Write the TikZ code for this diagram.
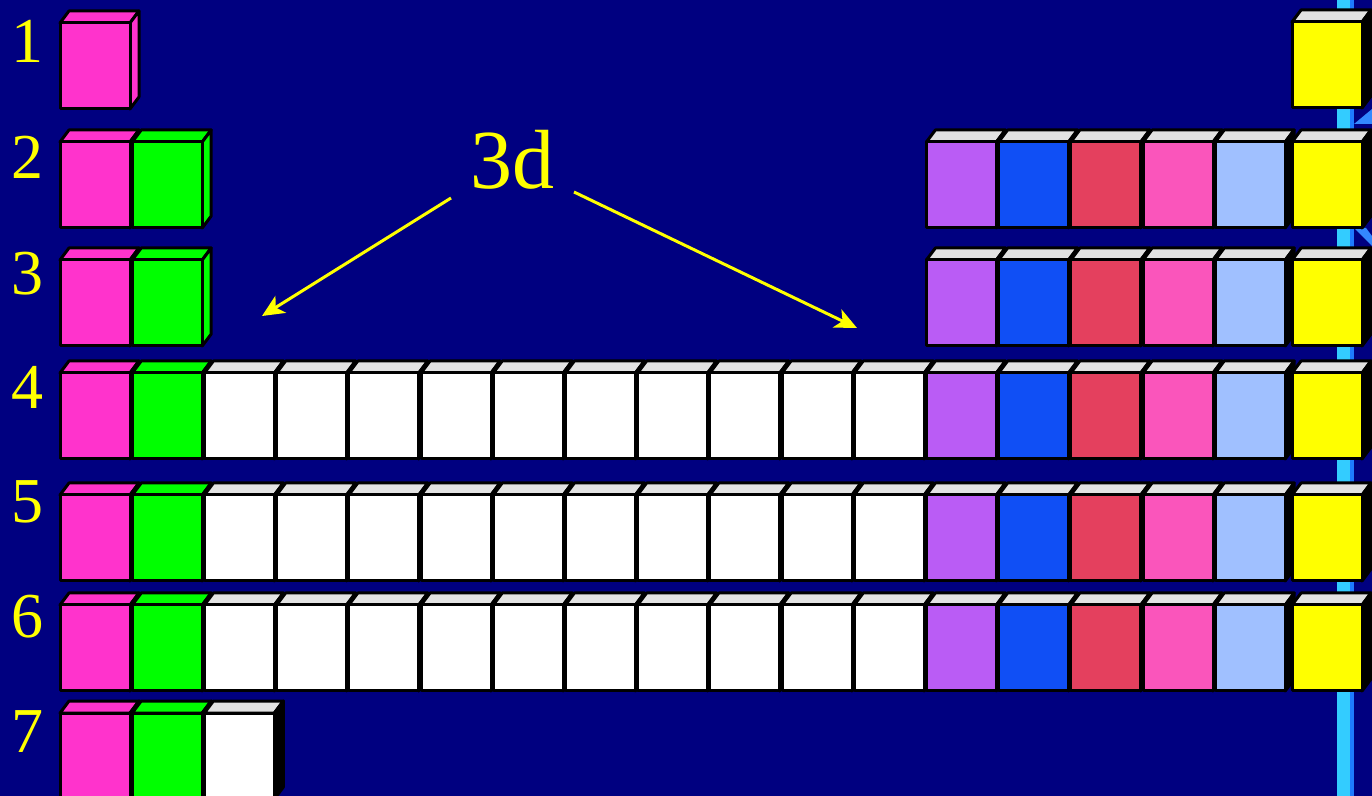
\documentclass[tikz,border=0pt]{standalone}
\usepackage{fontspec}
\setmainfont{Liberation Serif}
\usetikzlibrary{arrows.meta}
\definecolor{bg}{HTML}{000080}
\definecolor{cc0}{HTML}{FF33CC}
\definecolor{cc1}{HTML}{00FF00}
\definecolor{cc12}{HTML}{BA5CF5}
\definecolor{cc13}{HTML}{104FF5}
\definecolor{cc14}{HTML}{E4405E}
\definecolor{cc15}{HTML}{FA55BB}
\definecolor{cc16}{HTML}{A0C0FF}
\definecolor{cc17}{HTML}{FFFF00}
\definecolor{topgrey}{HTML}{E2E2E2}
\definecolor{linecyan}{HTML}{33CCFF}
\definecolor{lineblue}{HTML}{1E7BFF}
\definecolor{triblue}{HTML}{3388FF}
\definecolor{labelyellow}{HTML}{FFFF00}
\tikzset{
  cellline/.style={draw=black, line width=1.5pt, line join=round},
  rownum/.style={text=labelyellow, font=\fontsize{32}{32}\selectfont, inner sep=0pt},
  biglabel/.style={text=labelyellow, font=\fontsize{42}{42}\selectfont, inner sep=0pt},
  pointer/.style={draw=labelyellow, line width=1.5pt, -{Stealth[length=11pt, width=10pt, inset=3pt]}}
}
\newcommand\cellbox[5]{%
  \filldraw[cellline, fill=#4] ({#1},{#2}) -- ++(9,-12) -- ++(70,0) -- ++(-9,12) -- cycle;
  \filldraw[cellline, fill=#5] ({#1+70},{#2}) -- ++(9,-12) -- ++(0,86) -- ++(-9,12) -- cycle;
  \filldraw[cellline, fill=#3] ({#1},{#2}) rectangle ++(70,86);
}
\newcommand\pcell[2]{%
  \pgfmathsetmacro\cx{60+72.2*#1}%
  \ifnum#1<2 \def\fcol{cc#1}\def\tcol{cc#1}\def\scol{cc#1}%
  \else\ifnum#1<12 \def\fcol{white}\def\tcol{topgrey}\def\scol{black}%
  \else\def\fcol{cc#1}\def\tcol{topgrey}\def\scol{black}\fi\fi
  \cellbox{\cx}{#2}{\fcol}{\tcol}{\scol}%
}
\newcommand\ycell[1]{\cellbox{1292}{#1}{cc17}{topgrey}{black}}
\begin{document}
\begin{tikzpicture}[x=0.5pt,y=-0.5pt]
\fill[bg] (0,0) rectangle (1372,796);
\useasboundingbox (0,0) rectangle (1372,796);
% vertical blue line behind the last column
\fill[linecyan] (1337,0) rectangle (1350,796);
\fill[lineblue] (1350,0) rectangle (1354,796);
\fill[triblue] (1354,124) -- (1372,109) -- (1372,124) -- cycle;
\fill[triblue] (1354,228) -- (1366,228) -- (1372,236) -- (1372,246) -- cycle;
% row 1
\pcell{0}{23}
\ycell{22}
% rows 2 and 3
\foreach \y in {142,260}{
  \foreach \c in {0,1,12,13,14,15,16}{\pcell{\c}{\y}}
  \ycell{\y}
}
% rows 4 to 6
\foreach \y in {373,495,605}{
  \foreach \c in {0,...,16}{\pcell{\c}{\y}}
  \ycell{\y}
}
% row 7
\foreach \c in {0,1,2}{\pcell{\c}{713}}
% period numbers
\node[rownum] (n1) at (27,41) {1};
\node[rownum] (n2) at (27,157) {2};
\node[rownum] (n3) at (27,274) {3};
\node[rownum] (n4) at (27,387) {4};
\node[rownum] (n5) at (27,502) {5};
\node[rownum] (n6) at (27,617) {6};
\node[rownum] (n7) at (27,732) {7};
% 3d label and arrows
\node[biglabel] (d3) at (512,160) {3d};
\coordinate (a1s) at (451,198);
\coordinate (a1e) at (262,316);
\coordinate (a2s) at (574,192);
\coordinate (a2e) at (857,328);
\draw[pointer] (a1s) -- (a1e);
\draw[pointer] (a2s) -- (a2e);
\end{tikzpicture}
\end{document}
